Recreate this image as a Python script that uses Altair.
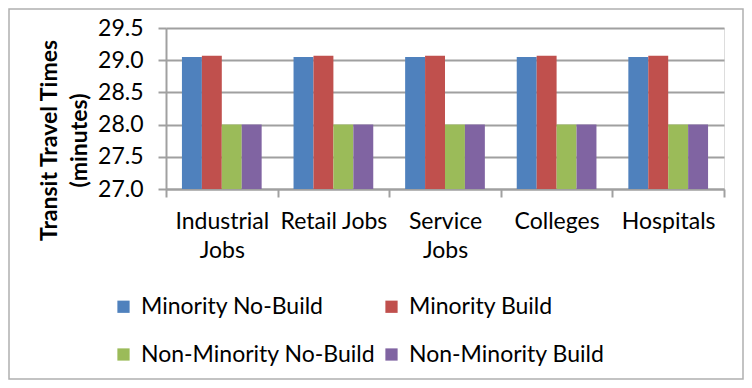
import altair as alt
import pandas as pd

categories = ["Industrial Jobs", "Retail Jobs", "Service Jobs", "Colleges", "Hospitals"]
series = ["Minority No-Build", "Minority Build", "Non-Minority No-Build", "Non-Minority Build"]
colors = ["#4F81BD", "#C0504D", "#9BBB59", "#8064A2"]
minority_no_build = [29.05, 29.05, 29.05, 29.05, 29.05]
minority_build = [29.07, 29.07, 29.07, 29.07, 29.07]
non_minority_no_build = [28.00, 28.00, 28.00, 28.00, 28.00]
non_minority_build = [28.00, 28.00, 28.00, 28.00, 28.00]
y_ticks = [27.0, 27.5, 28.0, 28.5, 29.0, 29.5]

rows = []
for s, vals in zip(series, [minority_no_build, minority_build, non_minority_no_build, non_minority_build]):
    for c, v in zip(categories, vals):
        rows.append({"Category": c, "Series": s, "Value": v})
df = pd.DataFrame(rows)

FONT = "Lato"
FS = 23
GRID = "#A0A0A0"

bars = alt.Chart(df).mark_bar(clip=True).encode(
    x=alt.X("Category:N", sort=categories,
            scale=alt.Scale(paddingInner=0, paddingOuter=0),
            axis=alt.Axis(title=None, labelAngle=0, tickBand="extent",
                          labelExpr="datum.value == 'Industrial Jobs' || datum.value == 'Service Jobs' ? split(datum.value, ' ') : datum.value",
                          labelFontSize=FS, labelFont=FONT, labelColor="black",
                          labelLineHeight=29, labelPadding=13, labelLimit=0,
                          tickSize=8, tickColor=GRID, tickWidth=2,
                          domainColor=GRID, domainWidth=2, grid=False)),
    xOffset=alt.XOffset("Series:N", sort=series,
                        scale=alt.Scale(paddingInner=0, paddingOuter=0.8)),
    y=alt.Y("Value:Q",
            scale=alt.Scale(domain=[27.0, 29.5], nice=False, zero=False),
            axis=alt.Axis(title=["Transit Travel Times", "(minutes)"], values=y_ticks, format=".1f",
                          labelFontSize=FS, labelFont=FONT, labelColor="black", labelPadding=15,
                          tickSize=8, tickColor=GRID, tickWidth=2,
                          domainColor=GRID, domainWidth=2,
                          gridColor=GRID, gridWidth=2,
                          titleFont=FONT, titleFontSize=FS, titleFontWeight="bold",
                          titleColor="black", titleAngle=-90, titleAlign="center",
                          titleBaseline="middle", titleLineHeight=30,
                          titleX=-117, titleY=112)),
    color=alt.Color("Series:N", sort=series,
                    scale=alt.Scale(domain=series, range=colors),
                    legend=alt.Legend(title=None, orient="none", legendX=-54, legendY=267,
                                      columns=2, symbolType="square", symbolSize=150,
                                      symbolStrokeWidth=0, labelFontSize=FS, labelFont=FONT,
                                      labelColor="black", labelLimit=0, columnPadding=4, rowPadding=24,
                                      labelOffset=6, direction="horizontal")),
)

border = alt.Chart(pd.DataFrame({"a": [0]})).mark_rect(
    fill=None, stroke="#B0B0B0", strokeWidth=1.5
).encode(x=alt.value(-157), x2=alt.value(577), y=alt.value(-19), y2=alt.value(351))

chart = alt.layer(bars, border).properties(
    width=558, height=161,
    autosize=alt.AutoSizeParams(type="none"),
    padding={"left": 158, "top": 20, "right": 20, "bottom": 191},
).configure_view(stroke=None).configure(background="white")

chart.save("out.html", embed_options={"renderer": "svg", "actions": False})
